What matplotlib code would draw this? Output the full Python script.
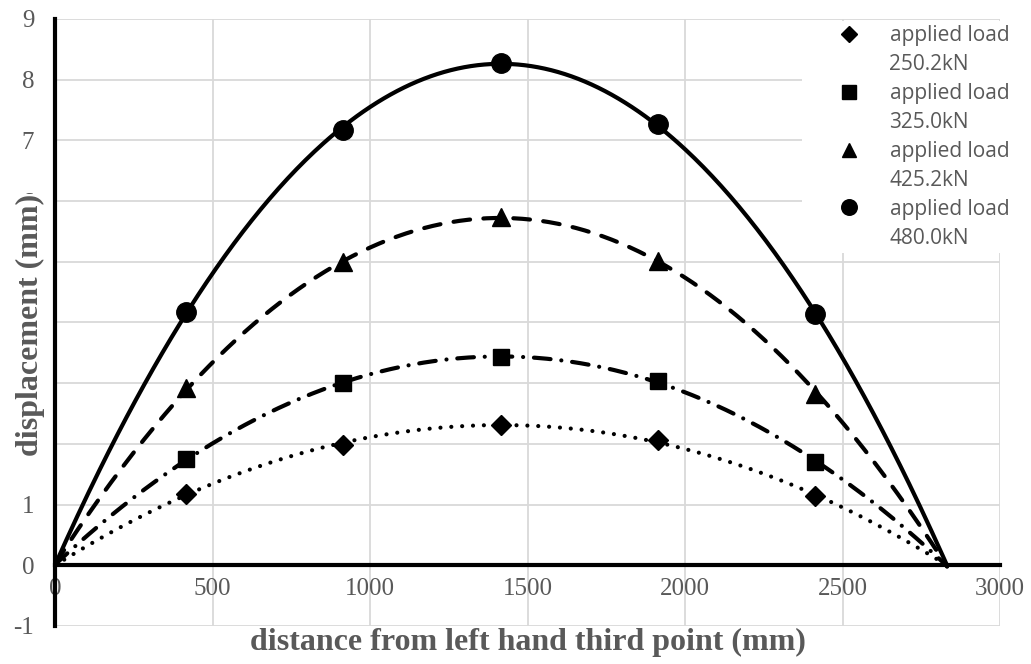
import numpy as np
import matplotlib
matplotlib.use("Agg")
import matplotlib.pyplot as plt
from matplotlib.lines import Line2D

# ---- data ----
x_pos = [0, 416, 914, 1416, 1914, 2413, 2832]
d250 = [0, 1.17, 1.99, 2.31, 2.06, 1.14, 0]
d325 = [0, 1.75, 3.01, 3.43, 3.03, 1.70, 0]
d425 = [0, 2.92, 4.99, 5.73, 5.02, 2.83, 0]
d480 = [0, 4.17, 7.17, 8.28, 7.27, 4.14, 0]
labels = ["applied load\n250.2kN", "applied load\n325.0kN",
          "applied load\n425.2kN", "applied load\n480.0kN"]
x_ticks = [0, 500, 1000, 1500, 2000, 2500, 3000]
y_ticks = [-1, 0, 1, 2, 3, 4, 5, 6, 7, 8, 9]

plt.rcParams["font.family"] = ["Liberation Serif", "DejaVu Serif"]
plt.rcParams["axes.unicode_minus"] = False

gray = "#595959"
fig = plt.figure(figsize=(10.31, 6.64), dpi=100)
ax = fig.add_axes([55/1031, 1-626/664, 945/1031, 607/664])

series = [
    (d250, "D", 10, dict(dashes=(0.01, 2.6), dash_capstyle="round")),
    (d325, "s", 12, dict(dashes=(4.0, 2.6, 0.01, 2.6), dash_capstyle="round")),
    (d425, "^", 13, dict(dashes=(4.0, 3.2), dash_capstyle="round")),
    (d480, "o", 14, dict(linestyle="-", solid_capstyle="round")),
]

xs = np.array(x_pos, dtype=float)
handles = []
for ys, mk, ms, style in series:
    ys = np.array(ys, dtype=float)
    coef = np.polyfit(xs, ys, 2)
    xx = np.linspace(xs[0], xs[-1], 400)
    ax.plot(xx, np.polyval(coef, xx), color="black", lw=3, zorder=3, **style)
    h, = ax.plot(xs[1:-1], ys[1:-1], linestyle="none", marker=mk, ms=ms,
                 color="black", zorder=4)
    handles.append(h)

ax.set_xlim(0, 3000)
ax.set_ylim(-1, 9)
ax.set_xticks(x_ticks)
ax.set_yticks(y_ticks)
ax.grid(True, color="#d9d9d9", lw=1.3, zorder=0)
ax.set_axisbelow(True)

for s in ["top", "right"]:
    ax.spines[s].set_visible(False)
ax.spines["left"].set_linewidth(3)
ax.spines["left"].set_color("black")
ax.spines["bottom"].set_position(("data", 0))
ax.spines["bottom"].set_linewidth(3)
ax.spines["bottom"].set_color("black")

ax.tick_params(axis="both", length=0, labelcolor=gray, labelsize=18)
ax.tick_params(axis="y", pad=15)
ax.tick_params(axis="x", pad=9)

ax.set_xlabel("distance from left hand third point (mm)", fontsize=23,
              fontweight="bold", color=gray)
ax.xaxis.label.set_va("center")
ax.xaxis.set_label_coords(0.5, -0.027)
ax.set_ylabel("displacement (mm)", fontsize=23, fontweight="bold",
              color=gray,
              bbox=dict(facecolor="white", edgecolor="none", pad=0))
ax.yaxis.label.set_va("center")
ax.yaxis.label.set_ha("center")
ax.yaxis.set_label_coords(-0.0265, 0.496)

# legend: marker aligned with first line of each two-line label
blank = Line2D([], [], linestyle="none", marker="none")
leg_handles, leg_labels = [], []
for h, lab in zip(handles, labels):
    first, second = lab.split("\n")
    leg_handles += [h, blank]
    leg_labels += [first, second]

leg = ax.legend(leg_handles, leg_labels, loc="upper left",
                bbox_to_anchor=(802/1031, 1-21/664), bbox_transform=fig.transFigure,
                frameon=True, fancybox=False, framealpha=1, edgecolor="none",
                facecolor="white", borderpad=0.2, handlelength=4.1,
                handletextpad=-0.1, labelspacing=0.38, markerscale=0.8,
                prop=dict(family="Open Sans", size=15), borderaxespad=0)
for t in leg.get_texts():
    t.set_color(gray)
leg.set_zorder(5)

fig.savefig("out.png", dpi=100)
